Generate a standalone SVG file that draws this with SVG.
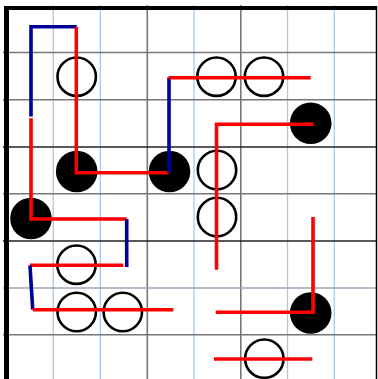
<svg xmlns="http://www.w3.org/2000/svg" width="378" height="379" viewBox="0 0 378 379">
<style>
.gl{stroke:#a9c9ea;stroke-width:1.3;fill:none}
.gg{stroke:#777;stroke-width:1.6;fill:none}
.gd{stroke:#222;stroke-width:1.6;fill:none}
.gb{stroke:#9aa9ba;stroke-width:1.4;fill:none}
.open{fill:#fff;stroke:#000;stroke-width:2.6}
.fill{fill:#000;stroke:none}
.r{stroke:#ff0000;stroke-width:3.6;fill:none;stroke-linejoin:miter}
.b{stroke:#000099;stroke-width:3.6;fill:none}
</style>
<rect x="0" y="0" width="378" height="379" fill="#fff"/>
<g id="grid">
<line class="gl" x1="53.3" y1="5" x2="53.3" y2="379"/>
<line class="gl" x1="100.3" y1="5" x2="100.3" y2="379"/>
<line class="gg" x1="147.3" y1="5" x2="147.3" y2="379"/>
<line class="gl" x1="194" y1="5" x2="194" y2="379"/>
<line class="gg" x1="240.8" y1="5" x2="240.8" y2="379"/>
<line class="gl" x1="287.5" y1="5" x2="287.5" y2="379"/>
<line class="gl" x1="334.3" y1="5" x2="334.3" y2="379"/>
<line class="gg" x1="3" y1="52.5" x2="377" y2="52.5"/>
<line class="gg" x1="3" y1="99.8" x2="377" y2="99.8"/>
<line class="gd" x1="3" y1="147" x2="377" y2="147"/>
<line class="gg" x1="3" y1="193.8" x2="377" y2="193.8"/>
<line class="gd" x1="3" y1="241" x2="377" y2="241"/>
<line class="gb" x1="3" y1="288" x2="377" y2="288"/>
<line class="gg" x1="3" y1="334.7" x2="377" y2="334.7"/>
<line x1="6.5" y1="6" x2="6.5" y2="379" stroke="#000" stroke-width="5"/>
<line x1="4" y1="8" x2="377" y2="8" stroke="#000" stroke-width="4"/>
<line x1="376.5" y1="6" x2="376.5" y2="379" stroke="#000" stroke-width="1.5"/>
</g>
<g id="stones">
<circle id="s1" class="open" cx="76.7" cy="76.7" r="19.2"/>
<circle id="s2" class="fill" cx="76.7" cy="171.5" r="20.8"/>
<circle id="s3" class="fill" cx="169.5" cy="171.5" r="20.8"/>
<circle id="s4" class="open" cx="216.5" cy="76.7" r="19.2"/>
<circle id="s5" class="open" cx="264" cy="76.7" r="19.2"/>
<circle id="s6" class="fill" cx="310.7" cy="123.3" r="20.8"/>
<circle id="s7" class="open" cx="217" cy="170" r="19.2"/>
<circle id="s8" class="open" cx="217" cy="217" r="19.2"/>
<circle id="s9" class="fill" cx="310.7" cy="313" r="20.8"/>
<circle id="s10" class="open" cx="264.3" cy="358.7" r="19.2"/>
<circle id="s11" class="fill" cx="31" cy="218.5" r="20.8"/>
<circle id="s12" class="open" cx="76.5" cy="264.7" r="19.2"/>
<circle id="s13" class="open" cx="76.7" cy="312" r="19.2"/>
<circle id="s14" class="open" cx="122.8" cy="312" r="19.2"/>
</g>
<g id="connectors">
<polyline class="b" points="31,116.5 31,26.7 76.7,26.7"/>
<polyline class="r" points="76.3,26.7 76.3,172.7 168.5,172.7"/>
<polyline class="b" points="169,172.7 169,77.5"/>
<polyline class="r" points="168.5,77.7 310.7,77.7"/>
<polyline class="r" points="31,118.3 31,219 126.7,219"/>
<polyline class="b" points="126.7,219 126.7,267"/>
<polyline class="r" points="123.3,265.3 30,265.3"/>
<polyline class="b" points="30,265.3 32.7,309.7"/>
<polyline class="r" points="32.7,309.7 173.3,309.7"/>
<polyline class="r" points="313.5,124.3 216.5,124.3 216.5,269.7"/>
<polyline class="r" points="313,217 313,312.3 215.7,312.3"/>
<polyline class="r" points="214,359 312.3,359"/>
</g>
</svg>
